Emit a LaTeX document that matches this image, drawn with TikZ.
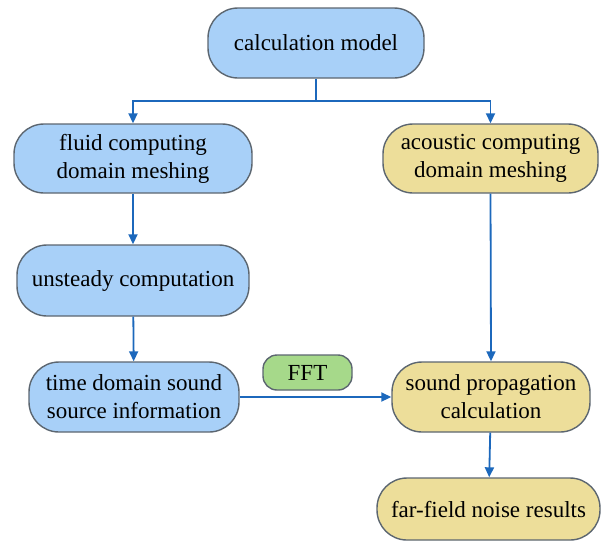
\documentclass[tikz,border=0pt]{standalone}
\usepackage{fontspec}
\setmainfont{Liberation Serif}
\usetikzlibrary{arrows.meta}
\definecolor{bluefill}{HTML}{A8D0F8}
\definecolor{yelfill}{HTML}{EDDE9A}
\definecolor{grnfill}{HTML}{A6D98A}
\definecolor{edgec}{HTML}{5C6670}
\definecolor{arrc}{HTML}{1C68BC}
\tikzset{
  box/.style={draw=edgec, line width=1.4pt, rounded corners=30pt, align=center,
     font=\fontsize{23}{28}\selectfont, inner sep=0pt},
  bluebox/.style={box, fill=bluefill},
  yelbox/.style={box, fill=yelfill},
  grnbox/.style={box, fill=grnfill, rounded corners=14pt},
  conn/.style={draw=arrc, line width=1.8pt, -{Triangle[length=10pt,width=9pt]}},
}
\begin{document}
\begin{tikzpicture}[x=1pt,y=-1pt]
\useasboundingbox (0,0) rectangle (601,542);
\node[bluebox, minimum width=216pt, minimum height=70pt] (calc) at (316,43) {calculation model};
\node[bluebox, minimum width=238pt, minimum height=69pt] (fluid) at (133,158.5) {fluid computing\\domain meshing};
\node[yelbox, minimum width=215pt, minimum height=69pt] (acou) at (490.5,158.5) {acoustic computing\\domain meshing};
\node[bluebox, minimum width=232pt, minimum height=71pt] (unst) at (133,280.5) {unsteady computation};
\node[bluebox, minimum width=210pt, minimum height=70pt] (time) at (134,397) {time domain sound\\source information};
\node[grnbox, minimum width=89pt, minimum height=35pt] (fft) at (307.5,372.5) {FFT};
\node[yelbox, minimum width=198pt, minimum height=70pt] (prop) at (491,397) {sound propagation\\calculation};
\node[yelbox, minimum width=223pt, minimum height=62pt] (far) at (488.5,509) {far-field noise results};
\coordinate (split) at (316,101);
\draw[conn] (calc.south) -- (split) -| (fluid.north);
\draw[conn] (split) -| (acou.north);
\draw[conn] (fluid) -- (unst);
\draw[conn] (unst) -- (time);
\draw[conn] (acou.south) -- (prop.north);
\draw[conn] (time.east) -- (prop.west);
\draw[conn] (prop) -- (far);
\end{tikzpicture}
\end{document}
